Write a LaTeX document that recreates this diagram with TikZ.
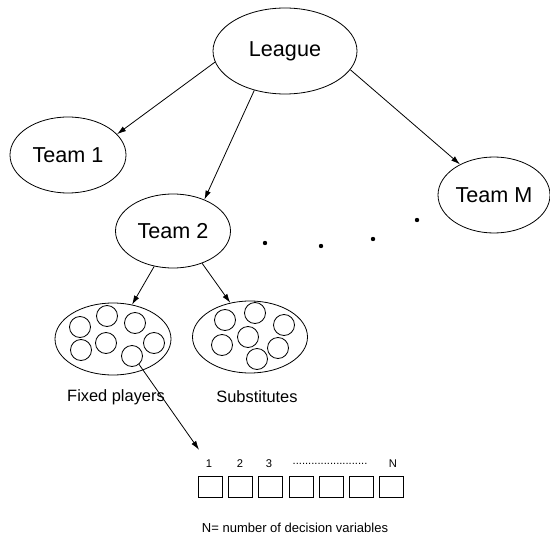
\documentclass[tikz,border=0pt]{standalone}
\usepackage{fontspec}
\setmainfont{Liberation Sans}
\usetikzlibrary{shapes.geometric,arrows.meta}
\tikzset{
  group/.style={draw, ellipse, inner sep=0pt, font=\fontsize{10.8}{12}\selectfont},
  player/.style={draw, circle, minimum size=10.5pt, inner sep=0pt},
  varbox/.style={draw, minimum width=12pt, minimum height=10.5pt, inner sep=0pt},
  small/.style={font=\fontsize{5.6}{6.5}\selectfont},
  link/.style={-{Latex[length=4.5pt,width=2.8pt]}}
}
\begin{document}
\begin{tikzpicture}[x=0.5pt,y=-0.5pt]
\useasboundingbox (0,0) rectangle (550,534);
% league and teams
\node[group, minimum width=72pt, minimum height=43pt] (league) at (285,51) {League};
\node[group, minimum width=58pt, minimum height=38pt] (team1) at (68,155) {Team 1};
\node[group, minimum width=57.5pt, minimum height=37pt] (team2) at (173,231) {Team 2};
\node[group, minimum width=56pt, minimum height=38pt] (teamM) at (494,195) {Team M};
\draw[link] (league.189) -- (team1.23);
\draw[link] (league.232) -- (team2.45);
\draw[link] (league.344) -- (teamM.138);
\foreach \Point in {(265,243),(321,246),(373,239),(417,220)}{
    \fill \Point circle (1.1pt);
}
% squads
\node[group, minimum width=58pt, minimum height=36pt] (fixed) at (113,339) {};
\node[group, minimum width=57.5pt, minimum height=36pt] (subs) at (250,337) {};
\draw[link] (team2.242) -- (fixed.61);
\draw[link] (team2.312) -- (subs.120);
\foreach \n/\x/\y in {f1/80/327, f2/107/316, f3/135/323, f4/81/350, f5/106/343, f6/154/343, f7/132/356,
                      s1/225/320, s2/255/313, s3/284/325, s4/222/345, s5/248/337, s6/278/348, s7/257/359}{
    \node[player] (\n) at (\x,\y) {};
}
\node[font=\fontsize{8.2}{10}\selectfont] (fixedlab) at (116,397) {Fixed players};
\node[font=\fontsize{8.2}{10}\selectfont] (subslab) at (257,397) {Substitutes};
% decision variables
\foreach \i in {1,...,7}{
    \node[varbox] (box\i) at ({210+30.3*(\i-1)},486.5) {};
}
\node[small] (lab1) at (209,464) {1};
\node[small] (lab2) at (240,464) {2};
\node[small] (lab3) at (269,464) {3};
\node[small] (labdots) at (330,464) {........................};
\node[small] (labN) at (393,464) {N};
\draw[link, shorten >=2pt] (f7.-50) -- (lab1);
\node[font=\fontsize{6.5}{8}\selectfont, anchor=base] (note) at (295,532) {N= number of decision variables};
\end{tikzpicture}
\end{document}
